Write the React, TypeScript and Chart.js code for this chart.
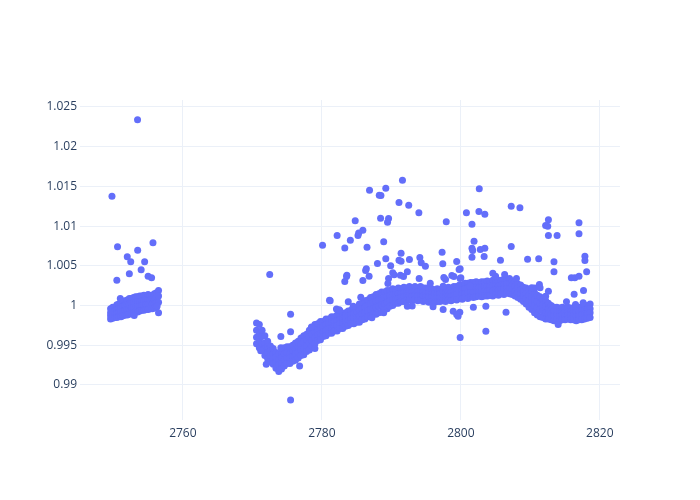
import React, { useEffect, useRef } from "react";
import { Chart, registerables } from "chart.js";

Chart.register(...registerables);

const xTicks = [2760, 2780, 2800, 2820];
const yTicks = [0.99, 0.995, 1, 1.005, 1.01, 1.015, 1.02, 1.025];

// first observing block (dense band)
const seg1X = [
  2749.6, 2749.9, 2750.2, 2750.5, 2750.8, 2751.1, 2751.4, 2751.7, 2752.0, 2752.3,
  2752.6, 2752.9, 2753.2, 2753.5, 2753.8, 2754.1, 2754.4, 2754.7, 2755.0, 2755.3,
  2755.6, 2755.9, 2756.2, 2756.5,
];
const seg1Y = [
  [0.9996, 0.9991, 0.9987, 0.9983],
  [0.9998, 0.9992, 0.9988, 0.9984],
  [0.9998, 0.9993, 0.9989, 0.9985],
  [1.0001, 0.9995, 0.999, 0.9985],
  [1.0002, 0.9996, 0.9991, 0.9986],
  [1.0003, 0.9997, 0.9992, 0.9986],
  [1.0005, 0.9999, 0.9993, 0.9987],
  [1.0006, 1.0, 0.9994, 0.9988],
  [1.0007, 1.0001, 0.9995, 0.9988],
  [1.0009, 1.0002, 0.9996, 0.9989],
  [1.0009, 1.0003, 0.9997, 0.999],
  [1.001, 1.0004, 0.9998, 0.9991],
  [1.0011, 1.0004, 0.9998, 0.9992],
  [1.0011, 1.0005, 0.9999, 0.9992],
  [1.0012, 1.0005, 0.9999, 0.9993],
  [1.0012, 1.0006, 1.0, 0.9994],
  [1.0013, 1.0006, 1.0, 0.9994],
  [1.0012, 1.0007, 1.0001, 0.9995],
  [1.0014, 1.0007, 1.0001, 0.9995],
  [1.0012, 1.0007, 1.0001, 0.9996],
  [1.0013, 1.0008, 1.0002, 0.9996],
  [1.0015, 1.0008, 1.0002, 0.9997],
  [1.0016, 1.001, 1.0004, 0.9998],
  [1.0019, 1.0012, 1.0004, 0.9991],
];

// second observing block (dense band)
const seg2X = [
  2770.6, 2771.0, 2771.4, 2771.8, 2772.2, 2772.6, 2773.0, 2773.4, 2773.8, 2774.2,
  2774.6, 2775.0, 2775.4, 2775.8, 2776.2, 2776.6, 2777.0, 2777.4, 2777.8, 2778.2,
  2778.6, 2779.0, 2779.4, 2779.8, 2780.2, 2780.6, 2781.0, 2781.4, 2781.8, 2782.2,
  2782.6, 2783.0, 2783.4, 2783.8, 2784.2, 2784.6, 2785.0, 2785.4, 2785.8, 2786.2,
  2786.6, 2787.0, 2787.4, 2787.8, 2788.2, 2788.6, 2789.0, 2789.4, 2789.8, 2790.2,
  2790.6, 2791.0, 2791.4, 2791.8, 2792.2, 2792.6, 2793.0, 2793.4, 2793.8, 2794.2,
  2794.6, 2795.0, 2795.4, 2795.8, 2796.2, 2796.6, 2797.0, 2797.4, 2797.8, 2798.2,
  2798.6, 2799.0, 2799.4, 2799.8, 2800.2, 2800.6, 2801.0, 2801.4, 2801.8, 2802.2,
  2802.6, 2803.0, 2803.4, 2803.8, 2804.2, 2804.6, 2805.0, 2805.4, 2805.8, 2806.2,
  2806.6, 2807.0, 2807.4, 2807.8, 2808.2, 2808.6, 2809.0, 2809.4, 2809.8, 2810.2,
  2810.6, 2811.0, 2811.4, 2811.8, 2812.2, 2812.6, 2813.0, 2813.4, 2813.8, 2814.2,
  2814.6, 2815.0, 2815.4, 2815.8, 2816.2, 2816.6, 2817.0, 2817.4, 2817.8, 2818.2,
  2818.6,
];
const seg2Y = [
  [0.9978, 0.9969, 0.996, 0.9952],
  [0.9976, 0.9966, 0.9957, 0.9947],
  [0.9969, 0.9961, 0.9952, 0.9944],
  [0.9962, 0.9953, 0.9946, 0.9937],
  [0.9955, 0.9948, 0.9941, 0.9933],
  [0.9949, 0.9943, 0.9937, 0.9929],
  [0.9946, 0.9939, 0.9933, 0.9926],
  [0.9941, 0.9935, 0.9928, 0.9921],
  [0.9939, 0.9931, 0.9925, 0.9917],
  [0.9941, 0.9934, 0.9927, 0.992],
  [0.9947, 0.9939, 0.9932, 0.9924],
  [0.9948, 0.9941, 0.9934, 0.9927],
  [0.9948, 0.994, 0.9934, 0.9927],
  [0.995, 0.9943, 0.9936, 0.993],
  [0.9953, 0.9945, 0.9939, 0.9931],
  [0.9955, 0.9948, 0.9941, 0.9934],
  [0.9959, 0.9951, 0.9944, 0.9937],
  [0.9962, 0.9954, 0.9946, 0.9938],
  [0.9964, 0.9957, 0.9949, 0.9942],
  [0.9969, 0.996, 0.9953, 0.9944],
  [0.9972, 0.9964, 0.9956, 0.9949],
  [0.9976, 0.9967, 0.996, 0.9952],
  [0.9977, 0.997, 0.9963, 0.9956],
  [0.998, 0.9972, 0.9965, 0.9957],
  [0.998, 0.9974, 0.9967, 0.9961],
  [0.9983, 0.9976, 0.9969, 0.9962],
  [0.9983, 0.9977, 0.9971, 0.9965],
  [0.9986, 0.9979, 0.9972, 0.9965],
  [0.9986, 0.998, 0.9974, 0.9968],
  [0.9988, 0.9981, 0.9975, 0.9968],
  [0.9988, 0.9982, 0.9977, 0.9971],
  [0.999, 0.9983, 0.9978, 0.9971],
  [0.9991, 0.9985, 0.998, 0.9974],
  [0.9993, 0.9987, 0.9981, 0.9975],
  [0.9994, 0.9988, 0.9983, 0.9977],
  [0.9997, 0.999, 0.9984, 0.9977],
  [0.9998, 0.9992, 0.9985, 0.9979],
  [1.0002, 0.9994, 0.9987, 0.9979],
  [1.0003, 0.9996, 0.9989, 0.9982],
  [1.0006, 0.9998, 0.9991, 0.9983],
  [1.0007, 1.0, 0.9993, 0.9986],
  [1.001, 1.0002, 0.9995, 0.9987],
  [1.0011, 1.0004, 0.9996, 0.9989],
  [1.0014, 1.0005, 0.9998, 0.9989],
  [1.0015, 1.0007, 0.9999, 0.9991],
  [1.0017, 1.0008, 1.0001, 0.9992],
  [1.0017, 1.001, 1.0002, 0.9995],
  [1.0019, 1.0011, 1.0004, 0.9996],
  [1.0019, 1.0012, 1.0006, 0.9999],
  [1.0021, 1.0014, 1.0007, 1.0],
  [1.002, 1.0014, 1.0008, 1.0003],
  [1.0022, 1.0015, 1.0009, 1.0003],
  [1.0021, 1.0015, 1.001, 1.0005],
  [1.0023, 1.0016, 1.0011, 1.0005],
  [1.0022, 1.0017, 1.0012, 1.0007],
  [1.0024, 1.0018, 1.0013, 1.0007],
  [1.0022, 1.0017, 1.0012, 1.0006],
  [1.0024, 1.0018, 1.0013, 1.0008],
  [1.0022, 1.0017, 1.0012, 1.0006],
  [1.0024, 1.0018, 1.0012, 1.0007],
  [1.0022, 1.0017, 1.0012, 1.0005],
  [1.0022, 1.0016, 1.0011, 1.0006],
  [1.0021, 1.0016, 1.0011, 1.0004],
  [1.0021, 1.0015, 1.001, 1.0005],
  [1.002, 1.0015, 1.001, 1.0004],
  [1.0021, 1.0015, 1.001, 1.0005],
  [1.002, 1.0015, 1.001, 1.0005],
  [1.0022, 1.0016, 1.0011, 1.0006],
  [1.0021, 1.0016, 1.0011, 1.0005],
  [1.0023, 1.0017, 1.0012, 1.0007],
  [1.0022, 1.0017, 1.0012, 1.0006],
  [1.0024, 1.0018, 1.0013, 1.0008],
  [1.0024, 1.0019, 1.0014, 1.0007],
  [1.0026, 1.0019, 1.0014, 1.0009],
  [1.0026, 1.002, 1.0015, 1.0008],
  [1.0028, 1.0021, 1.0015, 1.001],
  [1.0028, 1.0022, 1.0016, 1.0009],
  [1.0029, 1.0022, 1.0017, 1.0011],
  [1.0029, 1.0023, 1.0017, 1.001],
  [1.003, 1.0023, 1.0017, 1.0011],
  [1.0029, 1.0023, 1.0017, 1.0012],
  [1.003, 1.0023, 1.0018, 1.0011],
  [1.003, 1.0024, 1.0018, 1.0012],
  [1.0031, 1.0024, 1.0018, 1.0012],
  [1.003, 1.0024, 1.0019, 1.0013],
  [1.0032, 1.0025, 1.0019, 1.0012],
  [1.0031, 1.0025, 1.002, 1.0014],
  [1.0032, 1.0025, 1.002, 1.0013],
  [1.0032, 1.0026, 1.002, 1.0015],
  [1.0033, 1.0026, 1.0021, 1.0014],
  [1.0033, 1.0027, 1.0021, 1.0016],
  [1.0034, 1.0027, 1.0021, 1.0015],
  [1.0031, 1.0026, 1.002, 1.0014],
  [1.003, 1.0024, 1.0018, 1.0012],
  [1.0027, 1.0022, 1.0016, 1.001],
  [1.0026, 1.002, 1.0015, 1.0008],
  [1.0023, 1.0017, 1.0012, 1.0005],
  [1.0022, 1.0015, 1.0009, 1.0002],
  [1.002, 1.0013, 1.0006, 0.9998],
  [1.0018, 1.0011, 1.0003, 0.9995],
  [1.0016, 1.0008, 1.0, 0.9991],
  [1.0013, 1.0005, 0.9997, 0.9988],
  [1.0011, 1.0003, 0.9995, 0.9986],
  [1.0008, 1.0001, 0.9993, 0.9985],
  [1.0006, 0.9999, 0.9991, 0.9983],
  [1.0003, 0.9996, 0.999, 0.9983],
  [1.0, 0.9994, 0.9989, 0.9982],
  [0.9998, 0.9993, 0.9987, 0.9981],
  [0.9998, 0.9992, 0.9987, 0.9982],
  [0.9997, 0.9992, 0.9987, 0.9981],
  [0.9998, 0.9992, 0.9988, 0.9982],
  [0.9996, 0.9992, 0.9987, 0.9982],
  [0.9998, 0.9992, 0.9988, 0.9983],
  [0.9997, 0.9992, 0.9988, 0.9982],
  [0.9997, 0.9991, 0.9987, 0.9982],
  [0.9997, 0.9992, 0.9987, 0.9981],
  [0.9998, 0.9992, 0.9987, 0.9982],
  [0.9998, 0.9993, 0.9988, 0.9982],
  [1.0, 0.9994, 0.9989, 0.9983],
  [1.0, 0.9995, 0.999, 0.9984],
  [1.0002, 0.9996, 0.9991, 0.9985],
];

// points just off the band edges
const fringeX = [
  2797.45, 2797.45, 2799.6, 2801.3, 2783.8, 2784.5, 2782.1, 2817.6, 2771.2, 2772.0,
  2779.0, 2787.2, 2793.0, 2795.6, 2796.0, 2805.0, 2808.0, 2810.6, 2814.0, 2756.3,
  2751.0, 2753.0,
];
const fringeY = [
  1.00243, 0.9995, 0.99865, 1.00243, 1.00047, 0.9999, 0.99958, 1.00034, 0.9943, 0.9926,
  0.9946, 0.99845, 0.99995, 1.0028, 0.99985, 1.0037, 1.0034, 1.0022, 0.9976, 0.99995,
  1.0009, 0.99875,
];

// scattered points away from the band
const outX = [
  2753.48, 2749.8, 2750.6, 2752.0, 2752.5, 2753.5, 2754.5, 2755.7, 2752.3, 2754.0,
  2750.5, 2755.0, 2755.5,
  2772.5, 2775.5, 2775.5, 2774.1, 2774.1, 2776.8, 2775.5, 2781.2, 2782.6, 2778.5,
  2791.6, 2786.86, 2789.2, 2788.26, 2788.5, 2791.1, 2792.5, 2793.96, 2788.45, 2789.6,
  2789.45, 2784.8, 2797.9, 2800.8, 2785.9, 2785.3, 2785.2, 2782.2, 2784.1, 2783.3,
  2780.1, 2786.5, 2788.9, 2791.4, 2789.2, 2791.1, 2791.4, 2792.6, 2794.1, 2794.3,
  2794.9, 2797.3, 2797.4, 2799.4, 2788.0, 2789.9, 2786.4, 2786.3, 2786.8, 2783.6,
  2783.55, 2783.3, 2785.9, 2790.2, 2790.4, 2791.3, 2791.75, 2792.3, 2789.6, 2789.5,
  2794.0, 2797.55, 2797.8, 2798.7, 2799.0, 2799.75, 2799.9, 2781.1, 2785.6, 2788.9,
  2792.3, 2798.9, 2799.85, 2799.4, 2799.9, 2782.5,
  2802.65, 2802.6, 2803.45, 2807.25, 2808.5, 2801.6, 2801.9, 2801.6, 2801.7, 2802.8,
  2803.45, 2801.6, 2803.35, 2807.25, 2805.7, 2799.9, 2800.0, 2809.6, 2811.2, 2812.6,
  2812.2, 2812.5, 2812.6, 2813.85, 2817.0, 2817.0, 2813.4, 2813.4, 2817.85, 2817.85,
  2818.1, 2815.9, 2816.4, 2817.0, 2817.65, 2816.3, 2815.2, 2804.6, 2806.3, 2801.8,
  2803.6, 2806.5, 2803.6, 2812.6, 2812.2, 2811.3, 2811.4, 2810.2, 2816.5,
];
const outY = [
  1.0234, 1.01375, 1.0074, 1.00615, 1.0055, 1.00695, 1.00552, 1.0079, 1.004, 1.0045,
  1.0032, 1.0037, 1.0035,
  1.0039, 0.99889, 0.9967, 0.9961, 0.99468, 0.99238, 0.9881, 1.0006, 0.99935, 0.9973,
  1.01578, 1.01452, 1.01477, 1.01389, 1.01385, 1.01297, 1.01263, 1.01167, 1.011, 1.01096,
  1.01049, 1.01067, 1.01054, 1.01168, 1.00948, 1.00915, 1.00882, 1.00882, 1.00822, 1.00726,
  1.0076, 1.00735, 1.00802, 1.00659, 1.00588, 1.0057, 1.00558, 1.00579, 1.00605, 1.00538,
  1.00495, 1.00671, 1.00525, 1.00554, 1.00529, 1.005, 1.00462, 1.00441, 1.00369, 1.00382,
  1.00365, 1.00302, 1.00315, 1.00412, 1.00387, 1.00382, 1.00365, 1.00424, 1.0034, 1.00277,
  1.0034, 1.00353, 1.00327, 1.00378, 1.00365, 1.00453, 1.0034, 1.00067, 1.00105, 0.99908,
  0.99991, 0.99928, 0.99916, 0.99887, 0.99597, 0.99946,
  1.0147, 1.01184, 1.0115, 1.01251, 1.0123, 1.01024, 1.0081, 1.00722, 1.00693, 1.00705,
  1.00722, 1.00608, 1.00617, 1.00743, 1.0057, 1.00462, 1.00349, 1.00583, 1.00588, 1.01079,
  1.01008, 1.00999, 1.00882, 1.00882, 1.01041, 1.00903, 1.0055, 1.00424, 1.00621, 1.00567,
  1.00424, 1.00349, 1.00349, 1.00369, 1.00189, 1.00142, 1.00047, 1.00407, 1.0039, 0.99979,
  0.99991, 0.99916, 0.99676, 1.0018, 1.00117, 1.00264, 1.00223, 1.00223, 1.00013,
];

const X_MIN = 2745.2;
const X_MAX = 2822.9;
const Y_MIN = 0.98559;
const Y_MAX = 1.02588;

function buildPoints() {
  const pts: { x: number; y: number }[] = [];
  seg1X.forEach((x, i) => seg1Y[i].forEach((y) => pts.push({ x, y })));
  seg2X.forEach((x, i) => seg2Y[i].forEach((y) => pts.push({ x, y })));
  fringeX.forEach((x, i) => pts.push({ x, y: fringeY[i] }));
  outX.forEach((x, i) => pts.push({ x, y: outY[i] }));
  return pts;
}

export default function App() {
  const ref = useRef<HTMLCanvasElement | null>(null);

  useEffect(() => {
    if (!ref.current) return;
    const font = { family: '"Open Sans", verdana, arial, sans-serif', size: 12 };
    const chart = new Chart(ref.current, {
      type: "scatter",
      data: {
        datasets: [
          {
            data: buildPoints(),
            backgroundColor: "#636efa",
            borderWidth: 0,
            pointRadius: 3.5,
            pointHoverRadius: 3.5,
          },
        ],
      },
      options: {
        animation: false,
        responsive: false,
        devicePixelRatio: 1,
        events: [],
        layout: { padding: { left: 0, right: 80, top: 100, bottom: 0 } },
        plugins: { legend: { display: false }, tooltip: { enabled: false } },
        scales: {
          x: {
            type: "linear",
            min: X_MIN,
            max: X_MAX,
            afterBuildTicks: (axis: any) => {
              axis.ticks = xTicks.map((v) => ({ value: v }));
            },
            afterFit: (axis: any) => {
              axis.height = 80;
            },
            grid: { color: "#ebf0f8", lineWidth: 1, drawTicks: false },
            border: { display: false },
            ticks: {
              font,
              color: "#2a3f5f",
              padding: 6,
              maxRotation: 0,
              callback: (v: any) => String(v),
            },
          },
          y: {
            type: "linear",
            min: Y_MIN,
            max: Y_MAX,
            afterBuildTicks: (axis: any) => {
              axis.ticks = yTicks.map((v) => ({ value: v }));
            },
            afterFit: (axis: any) => {
              axis.width = 80;
            },
            grid: { color: "#ebf0f8", lineWidth: 1, drawTicks: false },
            border: { display: false },
            ticks: {
              font,
              color: "#2a3f5f",
              padding: 3,
              callback: (v: any) => String(Number(Number(v).toFixed(3))),
            },
          },
        },
      },
    });
    return () => chart.destroy();
  }, []);

  return (
    <div
      style={{
        position: "fixed",
        left: 0,
        top: 0,
        width: 700,
        height: 500,
        background: "#fff",
      }}
    >
      <canvas ref={ref} width={700} height={500} style={{ width: 700, height: 500 }} />
    </div>
  );
}
